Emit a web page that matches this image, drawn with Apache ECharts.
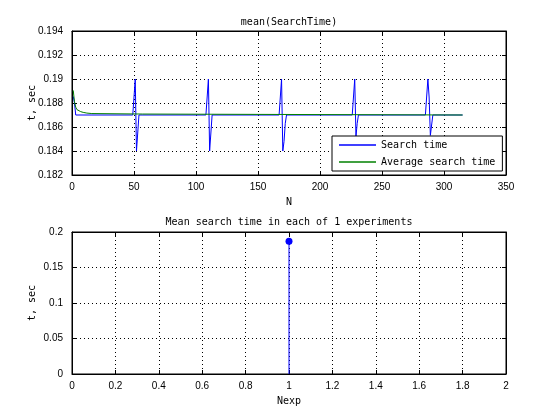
<!DOCTYPE html>
<html>
<head>
<meta charset="utf-8">
<script src="https://cdn.jsdelivr.net/npm/echarts@6/dist/echarts.min.js"></script>
<style>
  html, body { margin: 0; padding: 0; background: #fff; }
  #chart { width: 559px; height: 420px; }
</style>
</head>
<body>
<div id="chart"></div>
<script>
// search time per run (N) — only the points where the trace changes
var searchN = [1, 2, 3, 49, 50, 51, 52, 53, 54, 108, 109, 110, 111, 112, 113,
  167, 168, 169, 170, 171, 172, 173, 226, 227, 228, 229, 230, 231,
  285, 286, 287, 288, 289, 290, 291, 315];
var searchT = [0.18855, 0.188, 0.187, 0.187, 0.1885, 0.19, 0.184, 0.1855, 0.187,
  0.187, 0.1885, 0.19, 0.184, 0.1855, 0.187,
  0.187, 0.1885, 0.19, 0.184, 0.1848, 0.1863, 0.187,
  0.187, 0.1885, 0.19, 0.1852, 0.1863, 0.187,
  0.187, 0.1885, 0.19, 0.1885, 0.1853, 0.1853, 0.187, 0.187];

// running average
var avgN = [1, 2, 3, 4, 5, 7, 9, 12, 16, 17, 57, 58, 315];
var avgT = [0.18905, 0.1881, 0.18765, 0.18745, 0.18737, 0.18728, 0.18722, 0.18716,
  0.18712, 0.18708, 0.18708, 0.187, 0.187];

// mean per experiment
var expN = [1];
var expT = [0.187];

var font = 'DejaVu Sans Mono';
var tickFont = 'Liberation Sans';
var chart = echarts.init(document.getElementById('chart'));

function zip(a, b) {
  return a.map(function (x, i) { return [x, b[i]]; });
}

function mainAxis(grid, pos, min, max, step, name, gap, margin) {
  return {
    gridIndex: grid, type: 'value', position: pos, min: min, max: max, interval: step,
    name: name, nameLocation: 'middle', nameGap: gap, nameMoveOverlap: false,
    nameTextStyle: { fontFamily: font, fontSize: 10, color: '#000' },
    axisLine: { show: true, onZero: false, lineStyle: { color: '#000', width: 1 } },
    axisTick: { show: true, inside: true, length: 4, lineStyle: { color: '#000' } },
    axisLabel: { show: true, margin: margin, fontFamily: tickFont, fontSize: 10, color: '#000' },
    splitLine: { show: true, lineStyle: { color: '#000', width: 1, type: [1, 3] } }
  };
}
// top / right copies, ticks only
function boxAxis(grid, pos, min, max, step) {
  return {
    gridIndex: grid, type: 'value', position: pos, min: min, max: max, interval: step,
    axisLine: { show: true, onZero: false, lineStyle: { color: '#000', width: 1 } },
    axisTick: { show: true, inside: true, length: 4, lineStyle: { color: '#000' } },
    axisLabel: { show: false },
    splitLine: { show: false }
  };
}

var stem = [];
expN.forEach(function (n, i) { stem.push([n, 0], [n, expT[i]], null); });

chart.setOption({
  backgroundColor: '#fff',
  animation: false,
  title: [
    { text: 'mean(SearchTime)', left: 289, top: 17, textAlign: 'center', padding: 0,
      textStyle: { fontFamily: font, fontSize: 10, fontWeight: 'normal', color: '#000' } },
    { text: 'Mean search time in each of 1 experiments', left: 289, top: 217, textAlign: 'center', padding: 0,
      textStyle: { fontFamily: font, fontSize: 10, fontWeight: 'normal', color: '#000' } }
  ],
  grid: [
    { left: 72, top: 31, width: 434, height: 144, show: true, backgroundColor: '#fff', borderColor: '#000', borderWidth: 1 },
    { left: 72, top: 232, width: 434, height: 142, show: true, backgroundColor: '#fff', borderColor: '#000', borderWidth: 1 }
  ],
  xAxis: [
    mainAxis(0, 'bottom', 0, 350, 50, 'N', 22, 7),
    boxAxis(0, 'top', 0, 350, 50),
    mainAxis(1, 'bottom', 0, 2, 0.2, 'Nexp', 22, 7),
    boxAxis(1, 'top', 0, 2, 0.2)
  ],
  yAxis: [
    mainAxis(0, 'left', 0.182, 0.194, 0.002, 't, sec', 35, 9),
    boxAxis(0, 'right', 0.182, 0.194, 0.002),
    mainAxis(1, 'left', 0, 0.2, 0.05, 't, sec', 35, 9),
    boxAxis(1, 'right', 0, 0.2, 0.05)
  ],
  legend: {
    left: 332, top: 136, orient: 'vertical',
    data: ['Search time', 'Average search time'],
    icon: 'rect', itemWidth: 37, itemHeight: 1.5, itemGap: 5,
    padding: [3, 7, 3, 7],
    backgroundColor: '#fff', borderColor: '#000', borderWidth: 1, borderRadius: 0,
    textStyle: { fontFamily: font, fontSize: 10, color: '#000', lineHeight: 12 }
  },
  series: [
    { name: 'Search time', type: 'line', xAxisIndex: 0, yAxisIndex: 0,
      data: zip(searchN, searchT), symbol: 'none', color: '#0000ff',
      lineStyle: { width: 1, color: '#0000ff' } },
    { name: 'Average search time', type: 'line', xAxisIndex: 0, yAxisIndex: 0,
      data: zip(avgN, avgT), symbol: 'none', color: '#008000',
      lineStyle: { width: 1, color: '#008000' } },
    { type: 'line', xAxisIndex: 2, yAxisIndex: 2, data: stem, symbol: 'none',
      connectNulls: false, lineStyle: { width: 1, color: '#0000ff' } },
    { type: 'scatter', xAxisIndex: 2, yAxisIndex: 2, data: zip(expN, expT),
      symbol: 'circle', symbolSize: 7, itemStyle: { color: '#0000ff', opacity: 1 } }
  ]
});
</script>
</body>
</html>
